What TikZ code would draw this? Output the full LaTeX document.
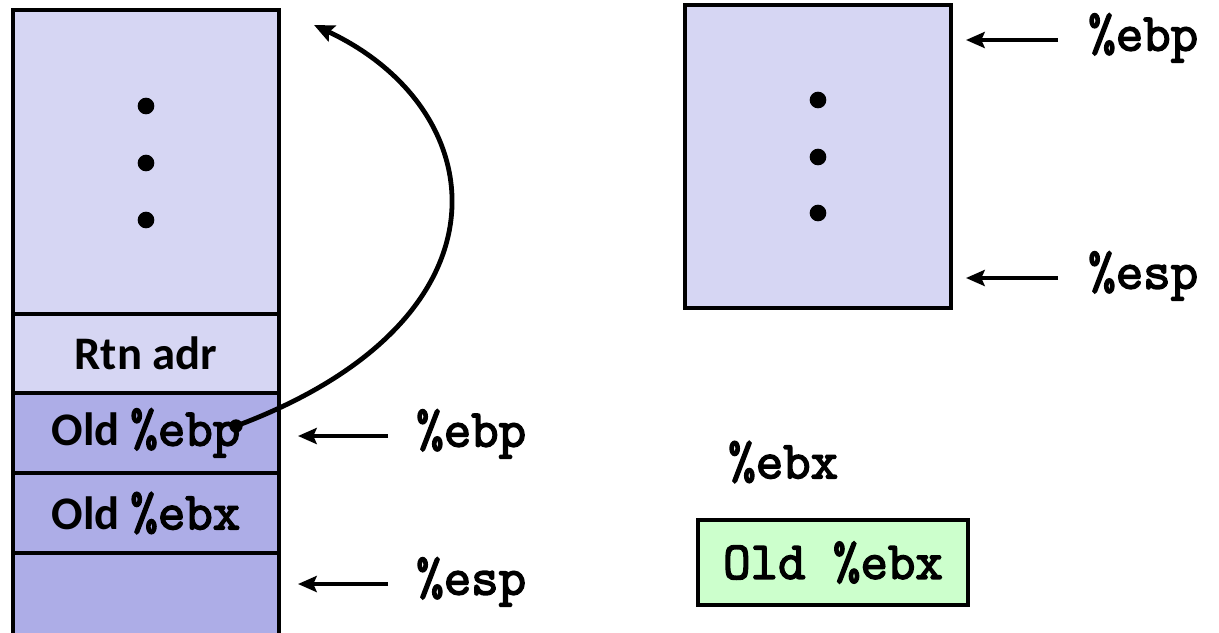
\documentclass[tikz,border=0pt]{standalone}
\usepackage{fontspec}
\setmainfont{Carlito}
\newfontfamily\lmmb{Latin Modern Mono}[FakeBold=3]
\usetikzlibrary{arrows.meta}
\definecolor{lav}{RGB}{214,214,243}
\definecolor{lavd}{RGB}{173,173,231}
\definecolor{grn}{RGB}{204,255,204}
\newcommand\txtf{\fontsize{35}{42}\selectfont\bfseries}
\newcommand\monof{\fontsize{40}{45}\selectfont\lmmb}
\begin{document}
\begin{tikzpicture}[x=0.75pt,y=-0.75pt,
  cell/.style={draw=black, line width=3pt, minimum width=199.5pt, inner sep=0pt, font=\txtf},
  lab/.style={inner sep=0pt, font=\monof, anchor=west},
  ptr/.style={line width=2.8pt, -{Stealth[length=14pt,width=12pt,inset=2.5pt]}},
  curv/.style={line width=3.6pt, -{Stealth[length=15pt,width=13pt,inset=2.5pt]}},
  dotm/.style={circle, fill=black, inner sep=0pt, minimum size=12.5pt}]
\useasboundingbox (0,0) rectangle (1219,632);
\clip (0,0) rectangle (1219,632);
% left stack
\node[cell, fill=lav, minimum height=228pt] (top) at (146,162) {};
\node[cell, fill=lav, minimum height=59.25pt] (rtn) at (146,353.5) {Rtn adr};
\node[cell, fill=lavd, minimum height=60pt] (oebp) at (146,433) {Old {\monof\%ebp}};
\node[cell, fill=lavd, minimum height=60pt] (oebx) at (146,513) {Old {\monof\%ebx}};
\node[cell, fill=lavd, minimum height=72pt] (blank) at (146,601) {};
\node[dotm] (d1) at (146,106) {};
\node[dotm] (d2) at (146,163) {};
\node[dotm] (d3) at (146,220) {};
% left pointers
\node[lab] (ebpL) at (416,434) {\%ebp};
\node[lab] (espL) at (416,582) {\%esp};
\coordinate (ebpT) at (388,436);
\coordinate (ebpH) at (298,436);
\coordinate (espT) at (388,584);
\coordinate (espH) at (298,584);
\draw[ptr] (ebpT) -- (ebpH);
\draw[ptr] (espT) -- (espH);
% curve
\node[circle, fill=black, inner sep=0pt, minimum size=10pt] (cs) at (236,426) {};
\coordinate (ce) at (314,25);
\draw[curv] (cs.center) .. controls (520,320) and (495,110) .. (ce);
% right frame
\node[cell, fill=lav, minimum height=227.25pt] (frame) at (818,156.5) {};
\node[dotm] (e1) at (818,100) {};
\node[dotm] (e2) at (818,157) {};
\node[dotm] (e3) at (818,213) {};
\node[lab] (ebpR) at (1088,38) {\%ebp};
\node[lab] (espR) at (1088,276) {\%esp};
\coordinate (rebpT) at (1058,40);
\coordinate (rebpH) at (966,40);
\coordinate (respT) at (1058,278);
\coordinate (respH) at (966,278);
\draw[ptr] (rebpT) -- (rebpH);
\draw[ptr] (respT) -- (respH);
% register ebx
\node[lab] (ebxL) at (728,462) {\%ebx};
\node[draw=black, line width=3pt, fill=grn, minimum width=202.5pt, minimum height=63.75pt, inner sep=0pt, font=\monof] (reg) at (833,562.5) {Old \%ebx};
\end{tikzpicture}
\end{document}
